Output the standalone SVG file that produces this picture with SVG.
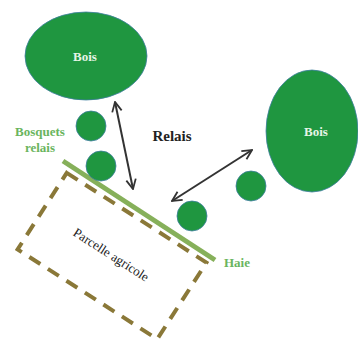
<svg xmlns="http://www.w3.org/2000/svg" width="358" height="343" viewBox="0 0 358 343">
<defs>
<style>
.wood{fill:#1f9640;stroke:#3f7fa0;stroke-width:0.8}
.wt{font-family:"Liberation Serif",serif;font-size:13px;font-weight:bold;fill:#e6f4e6;text-anchor:middle}
.gt{font-family:"Liberation Serif",serif;font-size:13px;font-weight:bold;fill:#6ab55e;text-anchor:middle}
.conn{stroke:#333;stroke-width:2;fill:none;marker-start:url(#ah);marker-end:url(#ah)}
</style>
<marker id="ah" viewBox="0 0 10 10" refX="9" refY="5" markerWidth="6" markerHeight="6" orient="auto-start-reverse" markerUnits="strokeWidth">
<path d="M1,1 L9,5 L1,9" fill="none" stroke="#333" stroke-width="1.5"/>
</marker>
</defs>
<rect width="358" height="343" fill="#fff"/>
<g id="parcelle">
<rect x="-83" y="-45.5" width="166" height="91" fill="none" stroke="#8a7838" stroke-width="4" stroke-dasharray="13,9" transform="translate(112,256) rotate(32.7)"/>
<text x="0" y="4" transform="translate(111,255) rotate(32.7)" font-family="Liberation Serif,serif" font-size="13" fill="#222" text-anchor="middle">Parcelle agricole</text>
</g>
<g id="haie">
<line x1="63" y1="161" x2="215" y2="260" stroke="#86b05a" stroke-width="5"/>
<text class="gt" x="237" y="267" fill="#7aad5a">Haie</text>
</g>
<g id="bois1">
<ellipse class="wood" cx="86" cy="56" rx="61" ry="44"/>
<text class="wt" x="85" y="61">Bois</text>
</g>
<g id="bois2">
<ellipse class="wood" cx="312" cy="131" rx="46" ry="61"/>
<text class="wt" x="316" y="136">Bois</text>
</g>
<g id="bosquet1"><circle class="wood" cx="91" cy="126" r="15"/></g>
<g id="bosquet2"><circle class="wood" cx="101" cy="166" r="15"/></g>
<g id="bosquet3"><circle class="wood" cx="251" cy="186" r="15"/></g>
<g id="bosquet4"><circle class="wood" cx="192" cy="216" r="15"/></g>
<g id="label-bosquets">
<text class="gt" x="40" y="136">Bosquets</text>
<text class="gt" x="40" y="152">relais</text>
</g>
<g id="connectors">
<line class="conn" x1="133" y1="189" x2="115" y2="102"/>
<line class="conn" x1="172" y1="201" x2="252" y2="150"/>
</g>
<g id="label-relais">
<text x="172" y="141" font-family="Liberation Serif,serif" font-size="15" font-weight="bold" fill="#222" text-anchor="middle">Relais</text>
</g>
</svg>
